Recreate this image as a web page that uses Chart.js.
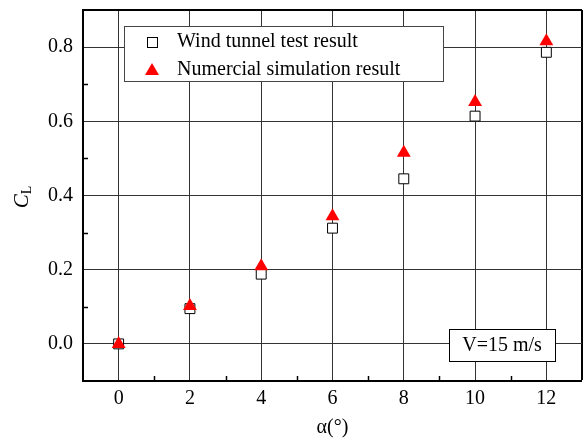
<!DOCTYPE html>
<html>
<head>
<meta charset="utf-8">
<script src="https://cdn.jsdelivr.net/npm/chart.js@4.4.1/dist/chart.umd.min.js"></script>
<style>
  body { margin: 0; background: #fff; }
  #wrap { width: 585px; height: 440px; }
</style>
</head>
<body>
<div id="wrap"><canvas id="clChart"></canvas></div>
<script>
// angle of attack (deg) and lift coefficient
const alphaValues = [0, 2, 4, 6, 8, 10, 12];
const windTunnelCL = [0.0, 0.095, 0.188, 0.312, 0.445, 0.614, 0.786];
const simulationCL = [0.0, 0.102, 0.209, 0.344, 0.515, 0.652, 0.816];
const seriesNames = ['Wind tunnel test result', 'Numercial simulation result'];
const xTickLabels = ['0', '2', '4', '6', '8', '10', '12'];
const yTickLabels = ['0.0', '0.2', '0.4', '0.6', '0.8'];
const speedNote = 'V=15 m/s';

const serif = '"Liberation Serif", "Times New Roman", serif';

function toPoints(ys) {
    return alphaValues.map((a, i) => ({ x: a, y: ys[i] }));
}

// minor ticks, legend, note box and the C_L axis title
const overlayPlugin = {
    id: 'overlay',
    afterDraw(chart) {
        const ctx = chart.ctx;
        const xs = chart.scales.x;
        const ys = chart.scales.y;
        const area = chart.chartArea;
        ctx.save();

        ctx.strokeStyle = '#000';
        ctx.lineWidth = 1.5;
        [1, 3, 5, 7, 9, 11].forEach(v => {
            const px = Math.round(xs.getPixelForValue(v)) + 0.5;
            ctx.beginPath();
            ctx.moveTo(px, area.bottom);
            ctx.lineTo(px, area.bottom - 5);
            ctx.stroke();
        });
        [0.1, 0.3, 0.5, 0.7].forEach(v => {
            const py = Math.round(ys.getPixelForValue(v)) + 0.5;
            ctx.beginPath();
            ctx.moveTo(area.left, py);
            ctx.lineTo(area.left + 5, py);
            ctx.stroke();
        });

        // legend
        ctx.fillStyle = '#fff';
        ctx.fillRect(124, 26, 319, 55);
        ctx.strokeStyle = '#444';
        ctx.lineWidth = 1;
        ctx.strokeRect(124.5, 26.5, 319, 55);

        ctx.fillStyle = '#fff';
        ctx.strokeStyle = '#000';
        ctx.fillRect(147, 37, 10, 10);
        ctx.strokeRect(147.5, 37.5, 10, 10);

        ctx.fillStyle = '#ff0000';
        ctx.beginPath();
        ctx.moveTo(152, 63);
        ctx.lineTo(159, 75);
        ctx.lineTo(145, 75);
        ctx.closePath();
        ctx.fill();

        ctx.fillStyle = '#000';
        ctx.font = '20px ' + serif;
        ctx.textAlign = 'left';
        ctx.textBaseline = 'middle';
        ctx.fillText(seriesNames[0], 177, 42);
        ctx.fillText(seriesNames[1], 177, 70);

        // speed note
        ctx.fillStyle = '#fff';
        ctx.fillRect(449, 329, 106, 32);
        ctx.strokeStyle = '#000';
        ctx.strokeRect(449.5, 329.5, 106, 32);
        ctx.fillStyle = '#000';
        ctx.textAlign = 'center';
        ctx.fillText(speedNote, 502, 346);

        // y title C_L
        ctx.translate(22, 197);
        ctx.rotate(-Math.PI / 2);
        ctx.textAlign = 'left';
        ctx.font = 'italic 21px ' + serif;
        const cw = ctx.measureText('C').width;
        ctx.font = '14px ' + serif;
        const lw = ctx.measureText('L').width;
        const start = -(cw + lw) / 2;
        ctx.font = 'italic 21px ' + serif;
        ctx.fillText('C', start, 0);
        ctx.font = '14px ' + serif;
        ctx.fillText('L', start + cw, 5);

        ctx.restore();
    }
};

const ctx = document.getElementById('clChart').getContext('2d');
new Chart(ctx, {
    type: 'scatter',
    data: {
        datasets: [
            {
                label: seriesNames[1],
                data: toPoints(simulationCL),
                pointStyle: 'triangle',
                pointRadius: 8,
                pointHoverRadius: 8,
                backgroundColor: '#ff0000',
                borderColor: '#ff0000',
                borderWidth: 0,
                order: 1
            },
            {
                label: seriesNames[0],
                data: toPoints(windTunnelCL),
                pointStyle: 'rect',
                pointRadius: 7,
                pointHoverRadius: 7,
                backgroundColor: '#fff',
                borderColor: '#000',
                borderWidth: 1,
                order: 2
            }
        ]
    },
    options: {
        responsive: true,
        maintainAspectRatio: false,
        animation: false,
        events: [],
        layout: {
            autoPadding: false,
            padding: { top: 10, right: 3, left: 0, bottom: 0 }
        },
        plugins: {
            legend: { display: false },
            tooltip: { enabled: false }
        },
        scales: {
            x: {
                type: 'linear',
                min: -1,
                max: 13,
                afterFit: s => {
                    s.height = 59;
                    s.paddingLeft = 0;
                    s.paddingRight = 0;
                },
                border: { color: '#000', width: 2 },
                grid: {
                    drawTicks: false,
                    color: c => c.tick && c.tick.value === 13 ? '#000' : '#333',
                    lineWidth: c => {
                        const v = c.tick ? c.tick.value : 0;
                        if (v === 13) return 2;
                        if (v === -1) return 0;
                        return v % 2 === 0 ? 1 : 0;
                    }
                },
                ticks: {
                    stepSize: 1,
                    padding: 6,
                    color: '#000',
                    font: { family: serif, size: 20 },
                    callback: v => (v >= 0 && v % 2 === 0) ? xTickLabels[v / 2] : ''
                },
                title: {
                    display: true,
                    text: 'α(°)',
                    color: '#000',
                    font: { family: serif, size: 20 },
                    padding: { top: 0, bottom: 0 }
                }
            },
            y: {
                type: 'linear',
                min: -0.1,
                max: 0.9,
                afterFit: s => {
                    s.width = 83;
                    s.paddingTop = 0;
                    s.paddingBottom = 0;
                },
                border: { color: '#000', width: 2 },
                grid: {
                    drawTicks: false,
                    color: c => c.tick && Math.round(c.tick.value * 10) === 9 ? '#000' : '#333',
                    lineWidth: c => {
                        const k = c.tick ? Math.round(c.tick.value * 10) : 0;
                        if (k === 9) return 2;
                        if (k === -1) return 0;
                        return k % 2 === 0 ? 1 : 0;
                    }
                },
                ticks: {
                    stepSize: 0.1,
                    padding: 10,
                    color: '#000',
                    font: { family: serif, size: 20 },
                    callback: v => {
                        const k = Math.round(v * 10);
                        return (k >= 0 && k % 2 === 0) ? yTickLabels[k / 2] : '';
                    }
                }
            }
        }
    },
    plugins: [overlayPlugin]
});
</script>
</body>
</html>
